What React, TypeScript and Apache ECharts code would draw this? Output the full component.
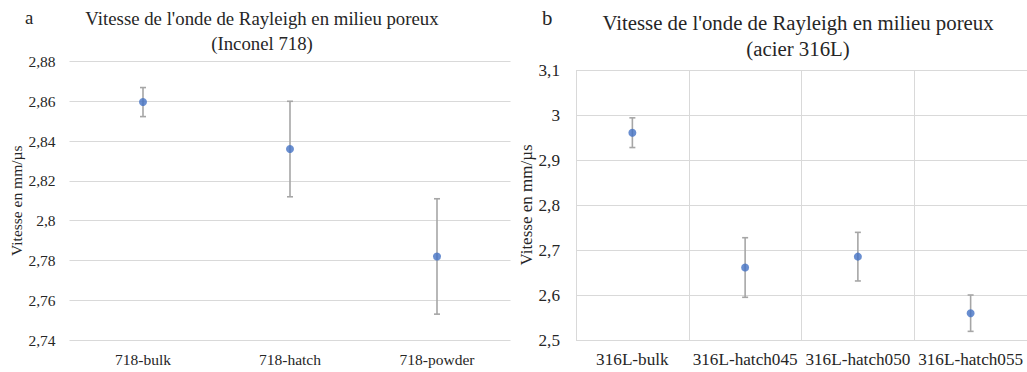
import React, { useEffect, useRef } from "react";
import * as echarts from "echarts";

const categoriesA = ["718-bulk", "718-hatch", "718-powder"];
const valuesA = [2.8596, 2.836, 2.782];
const errorsA = [0.0073, 0.024, 0.029];
const ticksA = { min: 2.74, max: 2.88, interval: 0.02 };

const categoriesB = ["316L-bulk", "316L-hatch045", "316L-hatch050", "316L-hatch055"];
const valuesB = [2.9607, 2.6611, 2.6852, 2.5596];
const errorsB = [0.033, 0.0662, 0.054, 0.0404];
const ticksB = { min: 2.5, max: 3.1, interval: 0.1 };

const titleText = "Vitesse de l'onde de Rayleigh en milieu poreux";
const subtitleA = "(Inconel 718)";
const subtitleB = "(acier 316L)";
const axisName = "Vitesse en mm/µs";

const FONT = "Liberation Serif";
const TEXT = "#262626";
const GRID = "#d9d9d9";
const BLUE = "#4472C4";
const ERR = "#a6a6a6";

const fmt = (v: number) => String(+v.toFixed(2)).replace(".", ",");

function errorRender(params: any, api: any) {
  const lo = api.coord([api.value(0), api.value(1)]);
  const hi = api.coord([api.value(0), api.value(2)]);
  const w = 3;
  const style = { stroke: ERR, lineWidth: 1.6 };
  return {
    type: "group",
    children: [
      { type: "line", shape: { x1: lo[0], y1: lo[1], x2: hi[0], y2: hi[1] }, style },
      { type: "line", shape: { x1: lo[0] - w, y1: lo[1], x2: lo[0] + w, y2: lo[1] }, style },
      { type: "line", shape: { x1: hi[0] - w, y1: hi[1], x2: hi[0] + w, y2: hi[1] }, style },
    ],
  };
}

export default function App() {
  const ref = useRef<HTMLDivElement>(null);
  useEffect(() => {
    if (!ref.current) return;
    const chart = echarts.init(ref.current, undefined, { renderer: "svg" });
    chart.setOption({
      animation: false,
      backgroundColor: "#ffffff",
      textStyle: { fontFamily: FONT, color: TEXT },
      title: [
        {
          text: titleText + "\n" + subtitleA,
          left: 257,
          top: 1,
          textAlign: "center",
          textStyle: { fontFamily: FONT, fontSize: 18.8, fontWeight: "normal", color: TEXT, lineHeight: 25 },
        },
        {
          text: titleText + "\n" + subtitleB,
          left: 793,
          top: 4,
          textAlign: "center",
          textStyle: { fontFamily: FONT, fontSize: 20.8, fontWeight: "normal", color: TEXT, lineHeight: 26 },
        },
        {
          text: "a",
          left: 20,
          top: 3,
          textStyle: { fontFamily: FONT, fontSize: 18.8, fontWeight: "normal", color: TEXT },
        },
        {
          text: "b",
          left: 537,
          top: 2,
          textStyle: { fontFamily: FONT, fontSize: 20.8, fontWeight: "normal", color: TEXT },
        },
      ],
      grid: [
        { left: 69.5, top: 61.5, width: 441, height: 278.5 },
        { left: 576, top: 70, width: 452, height: 270 },
      ],
      xAxis: [
        {
          type: "category",
          gridIndex: 0,
          data: categoriesA,
          boundaryGap: true,
          axisLine: { show: false },
          axisTick: { show: false },
          splitLine: { show: false },
          axisLabel: { fontFamily: FONT, fontSize: 15.5, color: TEXT, margin: 11 },
        },
        {
          type: "category",
          gridIndex: 1,
          data: categoriesB,
          boundaryGap: true,
          axisLine: { show: false },
          axisTick: { show: false },
          splitLine: { show: true, lineStyle: { color: GRID, width: 1 } },
          axisLabel: { fontFamily: FONT, fontSize: 17.2, color: TEXT, margin: 11, interval: 0 },
        },
      ],
      yAxis: [
        {
          type: "value",
          gridIndex: 0,
          min: ticksA.min,
          max: ticksA.max,
          interval: ticksA.interval,
          axisLine: { show: false },
          axisTick: { show: false },
          splitLine: { show: true, lineStyle: { color: GRID, width: 1 } },
          axisLabel: { fontFamily: FONT, fontSize: 15.5, color: TEXT, margin: 14, formatter: fmt },
          name: axisName,
          nameLocation: "middle",
          nameRotate: 90,
          nameGap: 45,
          nameTextStyle: { fontFamily: FONT, fontSize: 15.5, color: TEXT },
        },
        {
          type: "value",
          gridIndex: 1,
          min: ticksB.min,
          max: ticksB.max,
          interval: ticksB.interval,
          axisLine: { show: false },
          axisTick: { show: false },
          splitLine: { show: true, lineStyle: { color: GRID, width: 1 } },
          axisLabel: { fontFamily: FONT, fontSize: 17.2, color: TEXT, margin: 16, formatter: fmt },
          name: axisName,
          nameLocation: "middle",
          nameRotate: 90,
          nameGap: 40,
          nameTextStyle: { fontFamily: FONT, fontSize: 17, color: TEXT },
        },
      ],
      series: [
        {
          type: "custom",
          xAxisIndex: 0,
          yAxisIndex: 0,
          renderItem: errorRender,
          encode: { x: 0, y: [1, 2] },
          data: categoriesA.map((_, i) => [i, valuesA[i] - errorsA[i], valuesA[i] + errorsA[i]]),
          z: 1,
        },
        {
          type: "scatter",
          xAxisIndex: 0,
          yAxisIndex: 0,
          symbol: "circle",
          symbolSize: 8,
          itemStyle: { color: BLUE },
          data: valuesA,
          z: 2,
        },
        {
          type: "custom",
          xAxisIndex: 1,
          yAxisIndex: 1,
          renderItem: errorRender,
          encode: { x: 0, y: [1, 2] },
          data: categoriesB.map((_, i) => [i, valuesB[i] - errorsB[i], valuesB[i] + errorsB[i]]),
          z: 1,
        },
        {
          type: "scatter",
          xAxisIndex: 1,
          yAxisIndex: 1,
          symbol: "circle",
          symbolSize: 8,
          itemStyle: { color: BLUE },
          data: valuesB,
          z: 2,
        },
      ],
    });
    return () => chart.dispose();
  }, []);
  return (
    <div
      ref={ref}
      style={{ position: "fixed", left: 0, top: 0, width: 1027, height: 372, background: "#fff" }}
    />
  );
}
